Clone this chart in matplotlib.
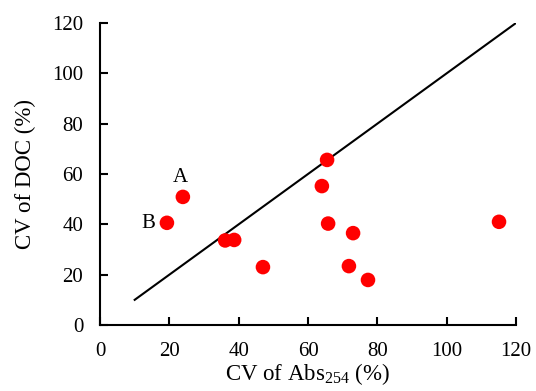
import matplotlib.pyplot as plt

plt.rcParams['font.family'] = ['Liberation Serif', 'DejaVu Serif']
plt.rcParams['mathtext.fontset'] = 'custom'
plt.rcParams['mathtext.rm'] = 'Liberation Serif'

# CV of Abs254 (%) and CV of DOC (%)
cv_abs = [23.9, 19.3, 36.1, 38.7, 47.0, 64.0, 65.5, 65.8, 73.0, 71.8, 77.3, 115.1]
cv_doc = [50.9, 40.6, 33.6, 33.8, 23.0, 55.2, 65.6, 40.3, 36.5, 23.4, 17.9, 41.0]
# 1:1 line
line_x = [10, 120]
line_y = [10, 120]
ticks = [0, 20, 40, 60, 80, 100, 120]

fig = plt.figure(figsize=(5.36, 3.91), dpi=100)
ax = fig.add_axes([0.1866, 0.1688, 0.7761, 0.7724])

ax.plot(line_x, line_y, color='black', lw=1.5, zorder=1)
ax.scatter(cv_abs, cv_doc, s=110, color='red', edgecolors='none', zorder=2)
ax.text(23.1, 58.5, 'A', fontsize=15, ha='center', va='center')
ax.text(13.8, 40.3, 'B', fontsize=15, ha='center', va='center')

ax.set_xlim(0, 120)
ax.set_ylim(0, 120)
ax.set_xticks(ticks)
ax.set_yticks(ticks)
ax.tick_params(direction='in', length=6, width=1.5, labelsize=15, pad=12)
for side in ['top', 'right']:
    ax.spines[side].set_visible(False)
for side in ['left', 'bottom']:
    ax.spines[side].set_linewidth(1.5)

ax.set_xlabel('CV of Abs$_{254}$ (%)', fontsize=16.5, labelpad=0)
ax.set_ylabel('CV of DOC (%)', fontsize=16.5, labelpad=12)

fig.savefig('out.png', dpi=100)
